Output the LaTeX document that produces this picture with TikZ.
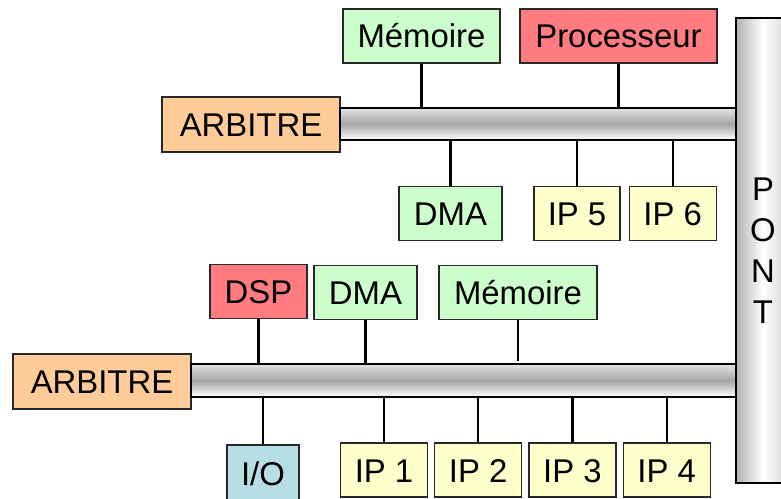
\documentclass[tikz,border=0pt]{standalone}
\usepackage{fontspec}
\setmainfont{Liberation Sans}
\definecolor{arbiorange}{RGB}{255, 204, 153}
\definecolor{memgreen}{RGB}{204, 255, 204}
\definecolor{procred}{RGB}{255, 124, 128}
\definecolor{ipyellow}{RGB}{255, 255, 204}
\definecolor{iocyan}{RGB}{183, 222, 228}
\definecolor{edgegray}{RGB}{40, 40, 40}
\usetikzlibrary{positioning}

\begin{document}
\begin{tikzpicture}[x=1bp, y=-1bp,
  unitbox/.style={draw=edgegray, line width=1.2bp, minimum height=54bp, inner sep=0pt, text height=24bp, text depth=0bp, font=\fontsize{33}{38}\selectfont},
  arbbox/.style={unitbox, fill=arbiorange, minimum width=178bp, minimum height=55bp},
  membox/.style={unitbox, fill=memgreen},
  procbox/.style={unitbox, fill=procred},
  ipbox/.style={unitbox, fill=ipyellow, minimum width=87bp},
  iobox/.style={unitbox, fill=iocyan, minimum width=72bp, minimum height=56bp},
  busbar/.style={draw=black, line width=1.2bp, inner sep=0pt, top color=gray!22, bottom color=white, middle color=gray!70},
  pontbar/.style={draw=black, line width=1.2bp, inner sep=0pt, left color=gray!60, right color=gray!35, middle color=white, align=center, font=\fontsize{33}{41}\selectfont},
  wire/.style={line width=2.2bp, black},
  node distance=6bp
]
  \useasboundingbox (0, 0) rectangle (781, 499);

  % upper bus
  \node[arbbox] (arb1) at (251, 124.5) {ARBITRE};
  \node[busbar, minimum width=396bp, minimum height=32bp] (bus1) at (538, 124) {};
  \node[membox, minimum width=157bp] (mem1) at (421.5, 36) {Mémoire};
  \node[procbox, minimum width=197bp] (proc) at (618.5, 36) {Processeur};
  \node[membox, minimum width=103bp] (dma1) at (450.5, 213.5) {DMA};
  \node[ipbox, minimum width=86bp] (ip5) at (577, 213.5) {IP 5};
  \node[ipbox, right=8bp of ip5] (ip6) {IP 6};

  \draw[wire] (mem1.south) -- (mem1.south |- bus1.north);
  \draw[wire] (proc.south) -- (proc.south |- bus1.north);
  \draw[wire] (dma1.north) -- (dma1.north |- bus1.south);
  \draw[wire] (ip5.north) -- (ip5.north |- bus1.south);
  \draw[wire] (ip6.north) -- (ip6.north |- bus1.south);

  % lower bus
  \node[arbbox] (arb2) at (102, 381.5) {ARBITRE};
  \node[busbar, minimum width=545bp, minimum height=33bp] (bus2) at (463.5, 380.5) {};
  \node[procbox, minimum width=97bp] (dsp) at (258.5, 291.5) {DSP};
  \node[membox, minimum width=103bp] (dma2) at (365.5, 292.5) {DMA};
  \node[membox, minimum width=158bp] (mem2) at (518, 292.5) {Mémoire};
  \node[iobox] (io) at (263, 473) {I/O};
  \node[ipbox] (ip1) at (384, 470) {IP 1};
  \node[ipbox, right=of ip1] (ip2) {IP 2};
  \node[ipbox, right=of ip2] (ip3) {IP 3};
  \node[ipbox, right=of ip3] (ip4) {IP 4};

  \draw[wire] (dsp.south) -- (dsp.south |- bus2.north);
  \draw[wire] (dma2.south) -- (dma2.south |- bus2.north);
  \draw[wire] (mem2.south) -- ([yshift=2bp]mem2.south |- bus2.north);
  \draw[wire] (io.north) -- (io.north |- bus2.south);
  \draw[wire] (ip1.north) -- (ip1.north |- bus2.south);
  \draw[wire] (ip2.north) -- (ip2.north |- bus2.south);
  \draw[wire] (ip3.north) -- (ip3.north |- bus2.south);
  \draw[wire] (ip4.north) -- (ip4.north |- bus2.south);

  % bridge
  \node[pontbar, minimum width=54bp, minimum height=465bp] (pont) at (763, 250.5) {P\\O\\N\\T};
\end{tikzpicture}
\end{document}
